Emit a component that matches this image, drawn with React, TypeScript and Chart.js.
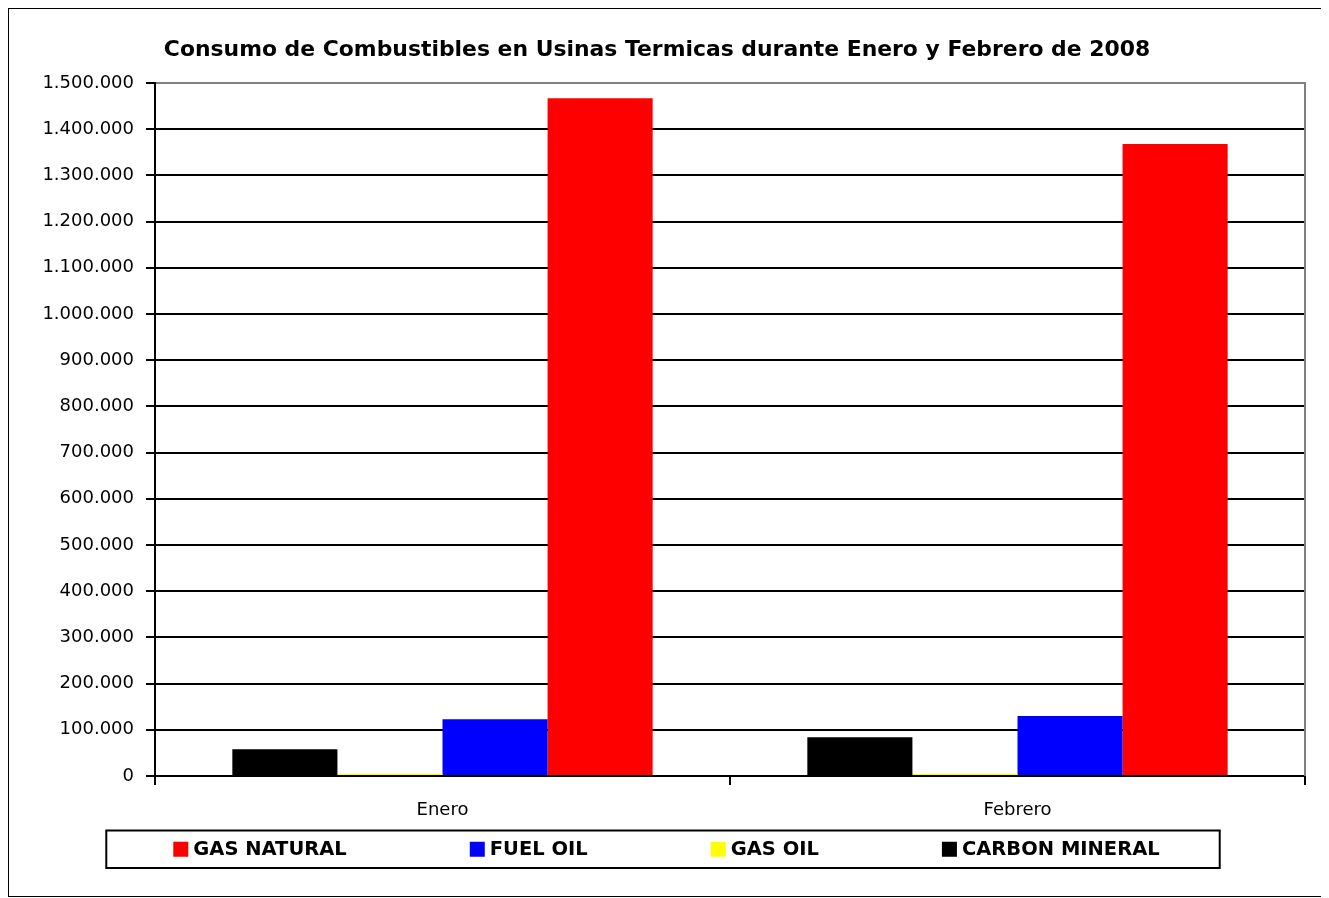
import React, { useEffect, useRef } from 'react';
import { Chart, registerables } from 'chart.js';

Chart.register(...registerables);

const TITLE = 'Consumo de Combustibles en Usinas Termicas durante Enero y Febrero de 2008';
const categories = ['Enero', 'Febrero'];
const seriesNames = ['CARBON MINERAL', 'GAS OIL', 'FUEL OIL', 'GAS NATURAL'];
const seriesColors = ['#000000', '#FFFF00', '#0000FF', '#FF0000'];
const carbonMineral = [58000, 84000];
const gasOil = [5000, 5000];
const fuelOil = [123000, 130000];
const gasNatural = [1467000, 1368000];
const yMin = 0;
const yMax = 1500000;
const yStep = 100000;

const FONT = '"DejaVu Sans", Verdana, sans-serif';

const fmt = (v: number) => String(Math.round(v)).replace(/\B(?=(\d{3})+(?!\d))/g, '.');

const framePlugin = {
  id: 'frameRight',
  beforeDatasetsDraw(chart: any) {
    const { ctx, chartArea } = chart;
    ctx.save();
    ctx.strokeStyle = '#808080';
    ctx.lineWidth = 2;
    ctx.beginPath();
    ctx.moveTo(chartArea.right, chartArea.top - 1);
    ctx.lineTo(chartArea.right, chartArea.bottom);
    ctx.stroke();
    ctx.restore();
  },
};

const boxLegendPlugin = {
  id: 'boxLegend',
  afterDraw(chart: any) {
    const ctx = chart.ctx;
    const items = chart.data.datasets
      .map((d: any) => ({ label: d.label as string, color: d.backgroundColor as string }))
      .reverse();
    ctx.save();
    ctx.font = 'bold 19.5px ' + FONT;
    const sq = 15;
    const gapSq = 5;
    const gapItem = 123;
    const widths = items.map((it: any) => sq + gapSq + ctx.measureText(it.label).width);
    const total = widths.reduce((a: number, b: number) => a + b, 0) + gapItem * (items.length - 1);
    let x = chart.width / 2 - total / 2;
    const boxTop = chart.height - 65.5;
    const boxH = 37.5;
    const cy = boxTop + boxH / 2;
    ctx.lineWidth = 2;
    ctx.strokeStyle = '#000';
    ctx.strokeRect(x - 67, boxTop, total + 127, boxH);
    items.forEach((it: any, i: number) => {
      ctx.fillStyle = it.color;
      ctx.fillRect(x, cy - 7.5, sq, 15);
      ctx.fillStyle = '#000';
      ctx.textBaseline = 'middle';
      ctx.textAlign = 'left';
      ctx.fillText(it.label, x + sq + gapSq, cy + 1);
      x += widths[i] + gapItem;
    });
    ctx.restore();
  },
};

export default function App() {
  const ref = useRef<HTMLCanvasElement | null>(null);

  useEffect(() => {
    if (!ref.current) return;
    const values = [carbonMineral, gasOil, fuelOil, gasNatural];
    const chart = new Chart(ref.current, {
      type: 'bar',
      data: {
        labels: categories,
        datasets: seriesNames.map((name, i) => ({
          label: name,
          data: values[i],
          backgroundColor: seriesColors[i],
          borderWidth: 0,
          barPercentage: 1,
          categoryPercentage: 0.731,
        })),
      },
      options: {
        responsive: false,
        animation: false,
        layout: { padding: { left: 0, right: 19, top: 0, bottom: 75 } },
        plugins: {
          legend: { display: false },
          tooltip: { enabled: false },
          title: {
            display: true,
            text: TITLE,
            color: '#000',
            font: { family: FONT, size: 21.9, weight: 'bold' },
            padding: { top: 28, bottom: 19.7 },
          },
        },
        scales: {
          x: {
            offset: true,
            border: { color: '#000', width: 2 },
            grid: {
              offset: true,
              drawOnChartArea: false,
              drawTicks: true,
              tickLength: 9,
              color: '#000',
              lineWidth: 2,
            },
            ticks: {
              color: '#000',
              font: { family: FONT, size: 18 },
              padding: 15,
            },
            afterFit: (s: any) => {
              s.height = 45;
            },
          },
          y: {
            min: yMin,
            max: yMax,
            border: { color: '#000', width: 2 },
            grid: {
              color: (c: any) => (c.tick && c.tick.value === yMax ? '#808080' : '#000'),
              tickColor: '#000',
              lineWidth: 2,
              tickLength: 9,
            },
            ticks: {
              stepSize: yStep,
              color: '#000',
              font: { family: FONT, size: 18 },
              padding: 12,
              callback: (v: any) => fmt(Number(v)),
            },
            afterFit: (s: any) => {
              s.width = 146;
            },
          },
        },
      },
      plugins: [framePlugin, boxLegendPlugin],
    });
    return () => chart.destroy();
  }, []);

  return (
    <div
      style={{
        width: 1315,
        height: 887,
        border: '1px solid #000',
        boxShadow: '3px 3px 0 #000',
        background: '#fff',
      }}
    >
      <canvas ref={ref} width={1315} height={887} style={{ display: 'block', width: 1315, height: 887 }} />
    </div>
  );
}
